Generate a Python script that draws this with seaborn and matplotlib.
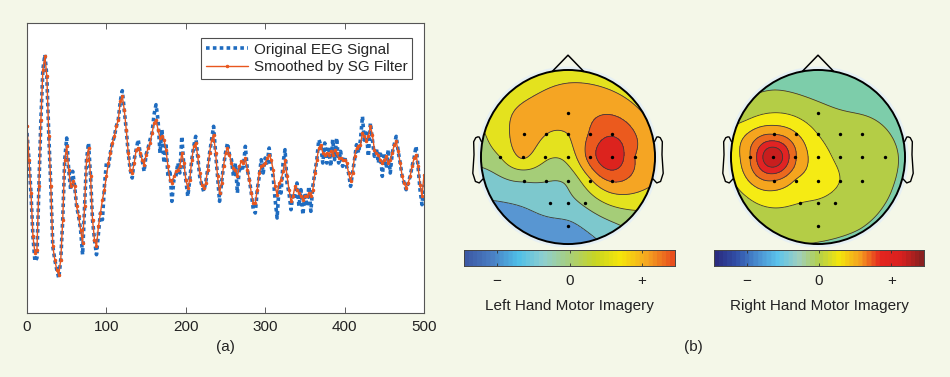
import numpy as np
import matplotlib
matplotlib.use('Agg')
import matplotlib.pyplot as plt
from matplotlib.colors import LinearSegmentedColormap
from matplotlib.patches import Circle
import seaborn as sns

sns.set_style('ticks')
plt.rcParams['font.family'] = ['Liberation Sans', 'DejaVu Sans']

BG = '#f4f7e8'

# (a) EEG trace, one value every 2.5 samples
smoothed = [
    13.0, 3.0, -7.0, -20.0, -25.0, -24.0, -5.0, 15.0, 30.0, 34.0,
    28.0, 10.0, -5.0, -23.0, -27.0, -30.0, -31.5, -27.0, -15.0, 3.0,
    7.0, 0.0, -5.0, -3.5, -5.0, -11.0, -14.0, -18.0, -22.0, -11.0,
    3.0, 6.5, -2.0, -15.0, -21.0, -23.0, -17.0, -13.0, -9.0, -6.0,
    -2.0, 2.0, 5.0, 8.0, 10.0, 13.0, 15.0, 20.5, 22.0, 18.0,
    12.0, 5.0, 0.0, -1.0, 2.0, 6.0, 6.5, 5.0, 3.0, 1.5,
    4.5, 6.5, 8.0, 11.0, 14.0, 15.0, 12.0, 9.5, 10.0, 9.0,
    6.0, 1.0, -3.0, -4.0, -2.0, -0.5, 0.0, 1.0, 5.0, 2.0,
    -3.0, -5.5, -3.0, 3.0, 7.0, 8.0, 4.0, -1.0, -4.5, -5.5,
    -4.0, 0.0, 5.0, 9.0, 10.5, 5.0, -2.0, -7.0, -4.0, 1.0,
    5.0, 6.5, 4.5, 2.0, 0.5, 0.0, -2.0, 1.0, 2.5, 2.0,
    3.5, 0.0, -3.0, -7.0, -10.0, -10.0, -6.0, -1.0, 1.0, 1.5,
    2.0, 3.5, 4.5, 3.0, 0.0, -5.0, -7.5, -4.0, -3.0, -0.5,
    3.0, -2.0, -6.0, -9.5, -8.0, -5.0, -6.0, -7.0, -8.0, -9.0,
    -8.0, -8.0, -7.0, -8.0, -6.0, -1.0, 3.0, 6.5, 7.5, 5.0,
    4.5, 5.0, 4.5, 5.5, 4.5, 6.0, 5.0, 3.5, 3.5, 3.0,
    3.0, 2.0, -1.0, -3.5, -1.0, 4.0, 6.5, 7.0, 7.5, 11.0,
    10.0, 8.5, 10.0, 13.0, 10.5, 6.0, 5.0, 4.5, 3.0, 2.0,
    3.0, 4.0, 2.0, 3.0, 5.0, 7.5, 8.5, 5.5, 2.0, -2.0,
    -4.0, -5.5, -4.0, -2.0, 1.0, 3.5, 4.5, 1.0, -4.5, -8.0,
    -1.5,
]
original = [
    11.0, 3.0, -7.0, -20.0, -27.5, -26.5, -5.0, 15.0, 30.0, 34.5,
    28.0, 10.0, -5.0, -23.0, -27.0, -30.0, -32.5, -27.0, -15.0, 3.0,
    9.5, 0.0, -6.0, -0.5, -5.0, -11.0, -14.0, -18.0, -25.5, -11.0,
    3.0, 8.0, -2.0, -15.0, -21.0, -25.5, -19.0, -13.0, -15.0, -5.0,
    2.0, 1.0, 5.0, 8.0, 10.0, 13.0, 15.0, 20.5, 23.7, 18.0,
    12.0, 5.0, 0.0, -2.5, 3.0, 6.0, 9.0, 5.0, 3.0, -0.5,
    4.5, 6.5, 9.0, 11.0, 16.5, 19.5, 15.0, 5.0, 12.0, 2.0,
    8.0, -2.0, 0.0, -9.5, -3.0, -2.0, 2.0, -1.0, 10.0, 1.0,
    -3.0, -8.0, -3.0, 3.0, 7.0, 10.0, 4.0, -2.0, -4.5, -6.5,
    -4.0, 0.0, 5.0, 9.0, 13.0, 5.0, -2.0, -9.5, -4.0, 1.0,
    5.0, 8.0, 4.5, 3.0, -2.0, 2.0, -7.0, 1.0, -0.5, 1.0,
    7.0, 0.0, -3.0, -7.0, -12.0, -13.0, -6.0, -2.0, 3.0, -1.0,
    3.5, 2.0, 6.5, 1.0, -2.0, -9.0, -14.5, -5.0, -7.0, 2.0,
    6.0, -4.0, -7.0, -12.0, -7.0, -9.0, -4.0, -11.0, -6.0, -13.5,
    -7.0, -11.0, -5.0, -12.5, -5.0, -1.0, 3.0, 9.0, 7.5, 2.0,
    8.0, 2.0, 7.0, 1.0, 9.0, 3.0, 9.5, 2.0, 5.5, 1.0,
    4.0, 1.0, -1.0, -5.0, -1.0, 3.0, 7.5, 5.0, 9.0, 16.0,
    8.0, 11.0, 4.0, 14.0, 9.0, 4.0, 6.5, 2.0, 5.5, -2.0,
    5.0, 0.5, 6.0, -1.0, 5.0, 7.5, 10.0, 5.5, 2.0, -2.0,
    -4.0, -6.0, -4.0, -2.0, 1.0, 3.5, 7.0, 1.0, -6.0, -10.5,
    -4.5,
]
samples = np.linspace(0, 500, len(smoothed))

# (b) 22 electrodes, head radius = 1
elec_x = [0.0,
          -0.5, -0.25, 0.0, 0.25, 0.5,
          -0.78, -0.52, -0.26, 0.0, 0.25, 0.51, 0.77,
          -0.5, -0.25, 0.0, 0.25, 0.5,
          -0.21, 0.0, 0.2,
          0.0]
elec_y = [0.51,
          0.26, 0.26, 0.26, 0.26, 0.26,
          0.0, 0.0, 0.0, 0.0, 0.0, 0.0, 0.0,
          -0.27, -0.27, -0.27, -0.27, -0.27,
          -0.53, -0.53, -0.53,
          -0.79]
# values in contour-band units
left_vals = [4.0,
             3.8, 3.5, 3.5, 4.6, 5.4,
             2.5, 3.6, 2.7, 2.85, 4.9, 6.3, 4.5,
             1.6, 1.55, 1.7, 3.3, 4.6,
             1.0, 1.2, 1.7,
             0.3]
right_vals = [0.85,
              3.5, 2.6, 1.5, 1.0, 0.9,
              3.5, 6.5, 3.6, 2.0, 1.3, 1.0, 0.8,
              3.5, 2.4, 2.0, 1.5, 1.0,
              1.5, 1.4, 1.2,
              0.9]
rim_angles = [90, 60, 30, 0, -30, -45, -60, -90, -120, -150, -165, 180, 165, 150, 120]
left_rim = [3.0, 3.1, 3.5, 4.0, 3.0, 2.0, 1.0, 0.0, 0.0, 0.5, 1.0, 1.9, 2.45, 3.0, 3.0]
right_rim = [-0.3, -0.3, 0.05, 0.3, 0.35, 0.38, 0.4, 0.45, 0.8, 1.2, 1.6, 1.9, 1.9, 1.0, 0.3]

levels = [0.5, 1.5, 2.5, 3.5, 4.5, 5.5]
left_colors = ['#5896d2', '#7dc8cd', '#a5cd78', '#e4e21e', '#f5a523', '#eb5a1e', '#dc231e']
right_colors = ['#7dcdaa', '#b4cd46', '#f5eb14', '#f5a51e', '#eb691e', '#e12323', '#c81e1e']

left_cbar = ['#3d5aa5', '#4a7fc4', '#4fbfe8', '#8fcfd0', '#a8cf7c', '#c8d624',
             '#f6e60a', '#f5a621', '#e8501e']
right_cbar = ['#2b2d80', '#3250a8', '#4a8fd0', '#5cc4ec', '#a0d0c0', '#b4d04a',
              '#f4e60c', '#f5a020', '#e4251f', '#d9201f', '#8a2020']


def biharmonic(px, py, pv, gx, gy):
    px, py, pv = np.asarray(px), np.asarray(py), np.asarray(pv)
    d = np.hypot(px[:, None] - px[None, :], py[:, None] - py[None, :])
    g = np.where(d > 0, d ** 2 * (np.log(np.where(d > 0, d, 1)) - 1), 0)
    w = np.linalg.solve(g, pv)
    dg = np.hypot(gx.ravel()[:, None] - px[None, :], gy.ravel()[:, None] - py[None, :])
    gg = np.where(dg > 0, dg ** 2 * (np.log(np.where(dg > 0, dg, 1)) - 1), 0)
    return (gg @ w).reshape(gx.shape)


def topo(ax, vals, rim, colors):
    th = np.deg2rad(rim_angles)
    px = list(elec_x) + list(np.cos(th))
    py = list(elec_y) + list(np.sin(th))
    pv = list(vals) + list(rim)
    gx, gy = np.meshgrid(np.linspace(-1.05, 1.05, 260), np.linspace(-1.05, 1.05, 260))
    z = biharmonic(px, py, pv, gx, gy)
    clip = Circle((0, 0), 1.0, transform=ax.transData)
    cf = ax.contourf(gx, gy, z, levels=[-50] + levels + [50], colors=colors)
    cf.set_clip_path(clip)
    cl = ax.contour(gx, gy, z, levels=levels, colors='#3a3a3a', linewidths=0.6)
    cl.set_clip_path(clip)
    ax.add_patch(Circle((0, 0), 1.02, fill=False, ec='#e6f0f4', lw=2.5))
    ax.add_patch(Circle((0, 0), 1.0, fill=False, ec='black', lw=1.4, zorder=5))
    ax.plot([-0.18, 0, 0.18], [0.984, 1.17, 0.984], color='black', lw=1.1)
    ear_x = np.array([0.994, 1.02, 1.036, 1.06, 1.084, 1.08, 1.094, 1.064, 1.02, 0.978])
    ear_y = np.array([0.111, 0.155, 0.157, 0.149, 0.111, -0.011, -0.186, -0.263, -0.277, -0.240]) * 1.22 + 0.04
    ax.plot(ear_x, ear_y, color='black', lw=1.0)
    ax.plot(-ear_x, ear_y, color='black', lw=1.0)
    ax.scatter(elec_x, elec_y, s=6, c='black', zorder=6, linewidths=0)
    ax.set_xlim(-1.264, 1.264)
    ax.set_ylim(-1.034, 1.287)
    ax.axis('off')


def cbar(ax, cols, label):
    cmap = LinearSegmentedColormap.from_list('c', cols, N=48)
    ax.imshow(np.linspace(0, 1, 256)[None, :], cmap=cmap, aspect='auto', extent=[0, 1, 0, 1])
    ax.set_xticks([0.156, 0.5, 0.844])
    ax.set_xticklabels(['\u2212', '0', '+'])
    ax.set_yticks([])
    ax.tick_params(axis='x', direction='in', top=True, length=2.5, width=0.6,
                   labelsize=11, pad=6, colors='#333333', labelcolor='#222222')
    for s in ax.spines.values():
        s.set_linewidth(0.7)
        s.set_color('#444444')
    ax.set_xlabel(label, fontsize=11, labelpad=8, color='#222222')


fig = plt.figure(figsize=(9.5, 3.77), dpi=100, facecolor=BG)

ax = fig.add_axes([27 / 950, 1 - 313 / 377, 397 / 950, 290 / 377])
ax.set_facecolor('white')
sns.lineplot(x=samples, y=original, ax=ax, color='#1f6cc0', linestyle=':', linewidth=2.6,
             label='Original EEG Signal')
ax.lines[0].set_dashes((1.0, 0.9))
sns.lineplot(x=samples, y=smoothed, ax=ax, color='#e8561e', linewidth=1.0, marker='.',
             markersize=3.5, markeredgecolor='#e8561e', label='Smoothed by SG Filter')
ax.set_xlim(0, 500)
ax.set_ylim(-43, 44)
ax.set_xticks([0, 100, 200, 300, 400, 500])
ax.set_yticks([])
ax.tick_params(axis='x', direction='in', top=True, length=4, width=0.6, labelsize=11,
               colors='#444444', labelcolor='#222222', pad=5)
for s in ax.spines.values():
    s.set_linewidth(0.8)
    s.set_color('#555555')
leg = ax.legend(loc='upper right', bbox_to_anchor=(0.97, 0.948), borderaxespad=0, fontsize=11,
                frameon=True, fancybox=False, edgecolor='#222222', handlelength=2.8,
                borderpad=0.3, labelspacing=0.22, handletextpad=0.35)
leg.get_frame().set_linewidth(0.8)

axl = fig.add_axes([458 / 950, 1 - 247 / 377, 220 / 950, 202 / 377])
topo(axl, left_vals, left_rim, left_colors)
axr = fig.add_axes([708 / 950, 1 - 247 / 377, 220 / 950, 202 / 377])
topo(axr, right_vals, right_rim, right_colors)

cbl = fig.add_axes([464 / 950, 1 - 266 / 377, 211 / 950, 16 / 377])
cbar(cbl, left_cbar, 'Left Hand Motor Imagery')
cbr = fig.add_axes([714 / 950, 1 - 266 / 377, 210 / 950, 16 / 377])
cbar(cbr, right_cbar, 'Right Hand Motor Imagery')

fig.text(225 / 950, 1 - 347 / 377, '(a)', ha='center', va='center', fontsize=11, color='#222222')
fig.text(693 / 950, 1 - 347 / 377, '(b)', ha='center', va='center', fontsize=11, color='#222222')

fig.savefig('out.png', dpi=100, facecolor=BG)
